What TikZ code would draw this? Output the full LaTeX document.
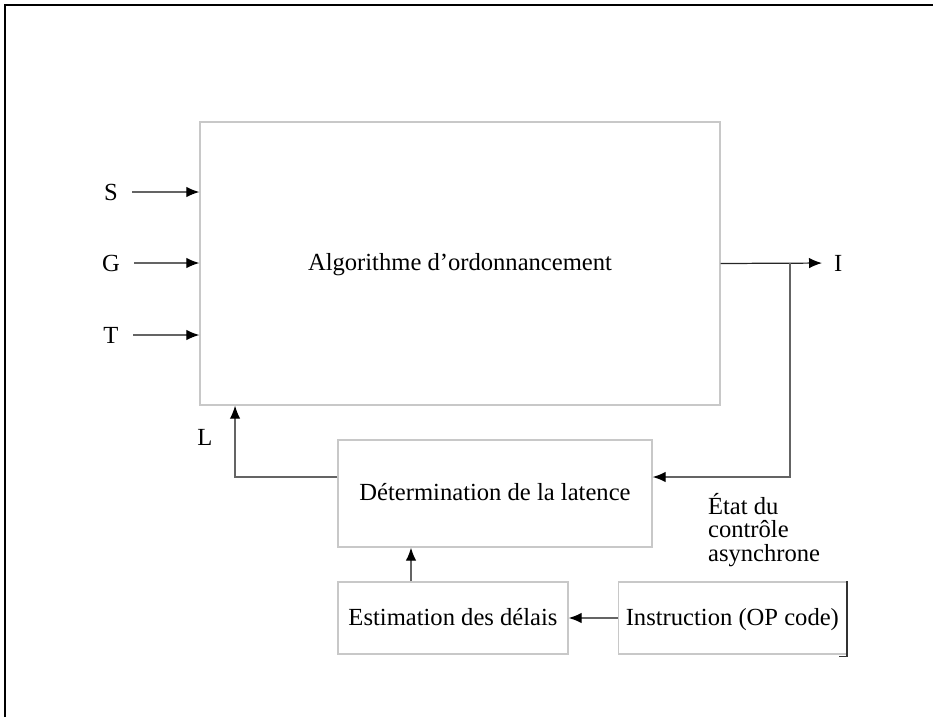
\documentclass[tikz,border=0pt]{standalone}
\usepackage{fontspec}
\setmainfont{Liberation Serif}
\usetikzlibrary{positioning,arrows.meta,calc}
\definecolor{BoxGray}{RGB}{200,200,200}
\definecolor{WireGray}{RGB}{100,100,100}
\tikzset{
  flow/.style={-{Latex[length=2.6mm,width=2.1mm,black]},line width=0.7pt,draw=WireGray},
  block/.style={draw=BoxGray,line width=0.8pt,align=center,
    font=\fontsize{14}{17}\selectfont,inner sep=0pt,text height=2.0ex,text depth=0.2ex},
  lbl/.style={font=\fontsize{14}{13.2}\selectfont,inner sep=1pt}
}

\begin{document}
\begin{tikzpicture}[x=0.02cm,y=-0.02cm]
  \useasboundingbox (0,0) rectangle (933,717);
  \draw[line width=0.9pt] (5,717) -- (5,5) -- (933,5);

  % blocks
  \node[block,minimum width=10.4cm,minimum height=5.66cm] (sched) at (460,263.5) {Algorithme d'ordonnancement};
  \node[block,minimum width=6.28cm,minimum height=2.14cm] (lat) at (495,493.5) {Détermination de la latence};
  \node[block,minimum width=4.6cm,minimum height=1.44cm] (delay) at (453,618) {Estimation des délais};
  \node[block,right=0.98cm of delay,minimum width=4.56cm,minimum height=1.44cm] (opcode) {Instruction (OP code)};
  \draw[line width=0.9pt,black!80] (opcode.north east) -- ([yshift=-0.04cm]opcode.south east) -- ++(-0.16cm,0);

  % inputs
  \foreach \name/\y in {S/192,G/263,T/335} {
    \node[lbl] (in\name) at (111,\y) {\name};
    \draw[flow,shorten <=0.25cm] (in\name.east) -- (in\name.east -| sched.west);
  }

  % output and feedback
  \node[lbl,anchor=west] (out) at (832,263) {I};
  \coordinate (tap) at (790,263);
  \draw[flow,draw=black!85,shorten >=0.2cm] (sched.east) -- (out.west);
  \draw[flow] (tap) |- ([yshift=0.33cm]lat.east);
  \draw[flow] ([yshift=0.33cm]lat.west) -| ([xshift=-4.5cm]sched.south);
  \node[lbl] (lblL) at (205,437) {L};
  \node[lbl,anchor=west,align=left] (state) at (706,530) {État du\\contrôle\\asynchrone};

  \draw[flow] ([xshift=-0.84cm]delay.north) -- ([xshift=-0.84cm]delay.north |- lat.south);
  \draw[flow] (opcode.west) -- (delay.east);
\end{tikzpicture}
\end{document}
